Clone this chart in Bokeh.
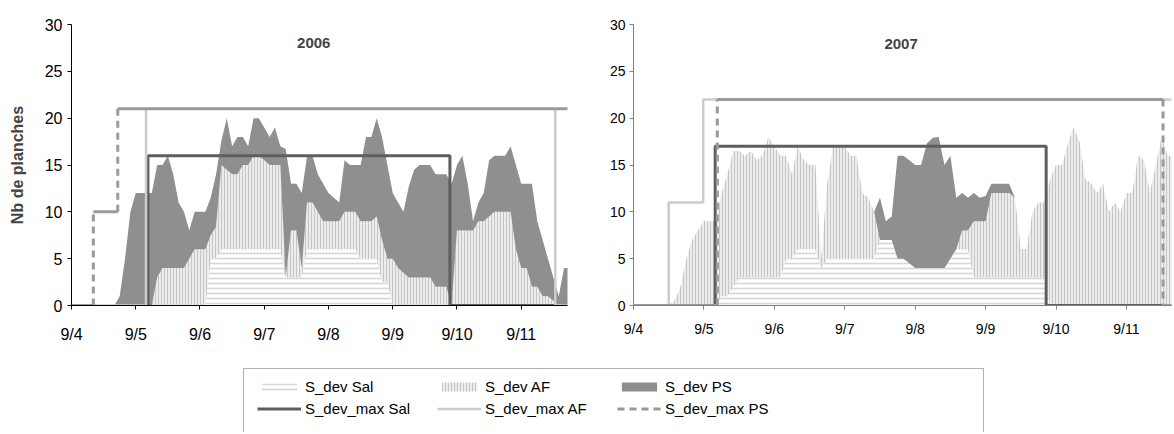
from bokeh.plotting import figure
from bokeh.models import (Range1d, FixedTicker, Label, Legend, LegendItem,
                          BoxAnnotation, ColumnDataSource)
from bokeh.layouts import column, row
from bokeh.embed import file_html
from bokeh.resources import INLINE

FONT = "Liberation Sans"

# ---------------- data ----------------
tick_days = [0, 1, 2, 3, 4, 5, 6, 7]
tick_labels = ["9/4", "9/5", "9/6", "9/7", "9/8", "9/9", "9/10", "9/11"]
y_ticks = [0, 5, 10, 15, 20, 25, 30]
series_names = ["S_dev Sal", "S_dev AF", "S_dev PS"]
max_names = ["S_dev_max Sal", "S_dev_max AF", "S_dev_max PS"]

# 2006 : hours after 9/4 00:00 (every 2 h)
hours_2006 = list(range(0, 188, 2))
sal_2006 = [0, 0, 0, 0, 0, 0, 0, 0, 0, 0,
            0, 0, 0, 0, 0, 0, 0, 0, 0, 0,
            0, 0, 0, 0, 0, 0, 5, 5, 6, 6,
            6, 6, 6, 6, 6, 6, 6, 6, 6, 6,
            3, 3, 3, 3, 6, 6, 6, 6, 6, 6,
            6, 6, 6, 6, 5, 5, 5, 5, 2.5, 2.5,
            0, 0, 0, 0, 0, 0, 0, 0, 0, 0,
            0, 0, 0, 0, 0, 0, 0, 0, 0, 0,
            0, 0, 0, 0, 0, 0, 0, 0, 0, 0,
            0, 0, 0, 0]
af_2006 = [0, 0, 0, 0, 0, 0, 0, 0, 0, 0,
           0, 0, 0, 0, 0, 0, 3, 4, 4, 4,
           4, 4, 5, 6, 6, 6, 2.5, 3.4, 9, 8.5,
           8, 8, 9, 9, 10, 10, 9.5, 9, 9, 9,
           0, 5, 5, 1, 5, 5, 4, 3, 3, 3,
           3, 4, 4, 4, 4, 4, 4, 4.5, 4.5, 2.5,
           5, 4, 3.5, 3, 3, 3, 3, 3, 2, 2,
           2, 0, 8, 8, 8, 8, 9, 9, 9.5, 10,
           10, 10, 10, 6, 4, 4, 2, 2, 1, 1,
           0.5, 0, 0, 0]
ps_2006 = [0, 0, 0, 0, 0, 0, 0, 0, 0, 1,
           5, 10, 12, 12, 12, 12, 12, 11, 12, 10,
           7, 6, 3, 4, 4, 4, 4, 5.6, 2.6, 5.5,
           3, 4, 3, 2, 4, 4, 3.5, 3, 4, 2,
           13.7, 5, 5, 8, 5, 5, 4, 4, 3, 2.5,
           2, 5.5, 5, 5, 6, 9, 9, 10.5, 11, 10,
           7, 7, 6.5, 9.7, 11.5, 12, 12, 12, 12, 12,
           12, 13, 7, 8, 5, 1, 2, 3, 6, 6,
           6, 6, 7, 9, 9, 9, 11, 7, 6, 4,
           2.5, 1, 4, 4]

# max levels (change times in days after 9/4, level held until next time)
salmax_t_2006 = [1.18, 1.19, 5.89, 7.56]
salmax_v_2006 = [0, 16, 0]
afmax_t_2006 = [0, 1.16, 7.53, 7.75]
afmax_v_2006 = [0, 21, 0]
psmax_t_2006 = [0, 0.34, 0.72, 7.75]
psmax_v_2006 = [0, 10, 21]

# 2007
hours_2007 = list(range(0, 186, 2))
sal_2007 = [0, 0, 0, 0, 0, 0, 0, 0, 0, 0,
            0, 0, 0, 0, 0, 1, 1, 2, 3, 3,
            3, 3, 3, 3, 3, 3, 5, 5, 6, 6,
            6, 6, 4, 5, 5, 5, 5, 5, 5, 5,
            5, 5, 7, 7, 7, 5, 5, 4.5, 4, 4,
            4, 4, 4, 4, 5, 6, 6, 6, 3, 3,
            3, 3, 3, 3, 3, 3, 3, 3, 3, 3,
            3, 0, 0, 0, 0, 0, 0, 0, 0, 0,
            0, 0, 0, 0, 0, 0, 0, 0, 0, 0,
            0, 0, 0]
af_2007 = [0, 0, 0, 0, 0, 0, 0, 0.5, 2, 5,
           7, 8, 9, 9, 9, 11, 13, 14.5, 13.5, 13,
           13.5, 12.5, 13, 15, 14, 13, 11, 9, 11, 9.5,
           9, 9, 1, 8, 12, 12, 12, 11, 11, 7,
           6.5, 5, 0, 0, 0, 0, 0, 0, 0, 0,
           0, 0, 0, 0, 0, 0, 2, 2, 6, 6,
           6, 9, 9, 9, 9, 8.5, 3, 3, 7, 8,
           8, 13.5, 15, 15, 17.2, 19, 17.5, 13.5, 13, 12,
           13, 10, 11, 10, 12, 12, 16, 15.5, 12, 15,
           18, 16, 16]
ps_2007 = [0, 0, 0, 0, 0, 0, 0, 0, 0, 0,
           0, 0, 0, 0, 0, 0, 0, 0, 0, 0,
           0, 0, 0, 0, 0, 0, 0, 0, 0, 0,
           0, 0, 0, 0, 0, 0, 0, 0, 0, 0,
           0, 0, 4.5, 2, 2.5, 11, 11, 11, 11, 11,
           13.3, 13.9, 14, 11, 11, 5.5, 4, 3.5, 3, 2.5,
           2.7, 1, 1, 1, 1, 0, 0, 0, 0, 0,
           0, 0, 0, 0, 0, 0, 0, 0, 0, 0,
           0, 0, 0, 0, 0, 0, 0, 0, 0, 0,
           0, 0, 0]

salmax_t_2007 = [1.15, 1.16, 5.86, 7.64]
salmax_v_2007 = [0, 17, 0]
afmax_t_2007 = [0, 0.5, 0.99, 7.64]
afmax_v_2007 = [0, 11, 22]
psmax_t_2007 = [0, 1.19, 7.52, 7.64]
psmax_v_2007 = [0, 22, 0]

# ---------------- styles ----------------
AREA_STYLE = dict(
    fill_color=["#ffffff", "#ececec", "#8f8f8f"],
    hatch_pattern=["horizontal_line", "vertical_line", " "],
    hatch_color=["#d6d6d6", "#c6c6c6", "#8f8f8f"],
    hatch_scale=[5, 3, 4],
    hatch_weight=[1.6, 1, 1],
)
SAL_MAX = dict(line_color="#5e5e5e", line_width=3)
AF_MAX = dict(line_color="#cccccc", line_width=2.5)
PS_MAX = dict(line_color="#9a9a9a", line_width=3)
PS_DASH = "7 5"


def draw_max(p, times, levels, style, dashed_vertical=False):
    if not dashed_vertical:
        p.step(x=times, y=levels + [levels[-1]], mode="after", **style)
        return
    hx0, hx1, hy, vx, vy0, vy1 = [], [], [], [], [], []
    for i, lv in enumerate(levels):
        hx0.append(times[i]); hx1.append(times[i + 1]); hy.append(lv)
        if i + 1 < len(levels):
            vx.append(times[i + 1]); vy0.append(lv); vy1.append(levels[i + 1])
    p.segment(x0=hx0, y0=hy, x1=hx1, y1=hy, line_cap="butt", **style)
    p.segment(x0=vx, y0=vy0, x1=vx, y1=vy1, line_dash=PS_DASH, line_cap="butt", **style)


def make_panel(width, height, xend, borders, hours, sal, af, ps, maxes, title, title_xy,
               tick_size, axis_color, ylabel=None):
    bl, br, bt, bb = borders
    p = figure(width=width, height=height, x_range=Range1d(0, xend), y_range=Range1d(0, 30),
               output_backend="svg", toolbar_location=None,
               min_border_left=bl, min_border_right=br, min_border_top=bt, min_border_bottom=bb)
    p.xgrid.visible = False
    p.ygrid.visible = False
    p.outline_line_color = None
    p.background_fill_color = "white"
    p.border_fill_color = "white"

    src = ColumnDataSource(dict(t=[h / 24 for h in hours], sal=sal, af=af, ps=ps))
    p.varea_stack(["sal", "af", "ps"], x="t", source=src, **AREA_STYLE)

    (st, sv), (at, av), (pt, pv) = maxes
    draw_max(p, st, sv, SAL_MAX)
    draw_max(p, at, av, AF_MAX)
    draw_max(p, pt, pv, PS_MAX, dashed_vertical=True)

    p.xaxis.ticker = FixedTicker(ticks=tick_days)
    p.xaxis.major_label_overrides = {d: lab for d, lab in zip(tick_days, tick_labels)}
    p.yaxis.ticker = FixedTicker(ticks=y_ticks)
    for ax in (p.xaxis, p.yaxis):
        ax.axis_line_color = axis_color
        ax.major_tick_line_color = axis_color
        ax.minor_tick_line_color = None
        ax.major_tick_in = 0
        ax.major_tick_out = 4
        ax.major_label_text_font = FONT
        ax.major_label_text_font_size = tick_size
        ax.major_label_text_color = "black"
    if ylabel:
        p.yaxis.axis_label = ylabel
        p.yaxis.axis_label_text_font = FONT
        p.yaxis.axis_label_text_font_style = "bold"
        p.yaxis.axis_label_text_font_size = "16px"
        p.yaxis.axis_label_standoff = 16
    p.add_layout(Label(x=title_xy[0], y=title_xy[1], text=title, text_font=FONT,
                       text_font_size="15px", text_font_style="bold",
                       text_align="center", text_baseline="middle"))
    return p


p1 = make_panel(600, 348, 7.72, (71, 33, 24, 43), hours_2006, sal_2006, af_2006, ps_2006,
                [(salmax_t_2006, salmax_v_2006), (afmax_t_2006, afmax_v_2006),
                 (psmax_t_2006, psmax_v_2006)],
                "2006", (3.77, 28), "16px", "black", ylabel="Nb de planches")
p1.xaxis.major_label_standoff = 16
p1.yaxis.major_label_standoff = 5

p2 = make_panel(572, 348, 7.64, (33, 1, 17, 36), hours_2007, sal_2007, af_2007, ps_2007,
                [(salmax_t_2007, salmax_v_2007), (afmax_t_2007, afmax_v_2007),
                 (psmax_t_2007, psmax_v_2007)],
                "2007", (3.8, 27.9), "14px", "#808080")
p2.xaxis.major_label_standoff = 11
p2.yaxis.major_label_standoff = 4

# ---------------- legend figure ----------------
LW, LH = 1172, 84
lf = figure(width=LW, height=LH, x_range=Range1d(0, LW), y_range=Range1d(0, LH),
            output_backend="svg", toolbar_location=None, x_axis_type=None, y_axis_type=None,
            min_border=0)
lf.xgrid.visible = False
lf.ygrid.visible = False
lf.outline_line_color = None

# off-screen stand-ins so that the legend swatches are drawn
area_r = []
for i in range(3):
    area_r.append(lf.varea(x=[-20, -10], y1=[-20, -20], y2=[-10, -10],
                           fill_color=AREA_STYLE["fill_color"][i],
                           hatch_pattern=AREA_STYLE["hatch_pattern"][i],
                           hatch_color=AREA_STYLE["hatch_color"][i],
                           hatch_scale=AREA_STYLE["hatch_scale"][i],
                           hatch_weight=AREA_STYLE["hatch_weight"][i]))
line_r = [
    lf.line(x=[-20, -10], y=[-20, -20], **SAL_MAX),
    lf.line(x=[-20, -10], y=[-20, -20], **AF_MAX),
    lf.line(x=[-20, -10], y=[-20, -20], line_dash=PS_DASH, **PS_MAX),
]
items = []
for i in range(3):
    items.append(LegendItem(label=series_names[i], renderers=[area_r[i]]))
    items.append(LegendItem(label=max_names[i], renderers=[line_r[i]]))

legend = Legend(items=items, location=(257, 15), orientation="vertical", nrows=2,
                glyph_width=44, glyph_height=11, label_standoff=4, label_width=128,
                label_height=18, spacing=4, padding=0, margin=0,
                border_line_color=None, background_fill_alpha=0,
                label_text_font=FONT, label_text_font_size="15px",
                label_text_color="black")
lf.add_layout(legend)
lf.add_layout(BoxAnnotation(left=243, right=983, bottom=-20, top=64,
                            fill_alpha=0, line_color="black", line_width=1))

layout = column(row(p1, p2), lf)
open("out.html", "w").write(file_html(layout, INLINE))
